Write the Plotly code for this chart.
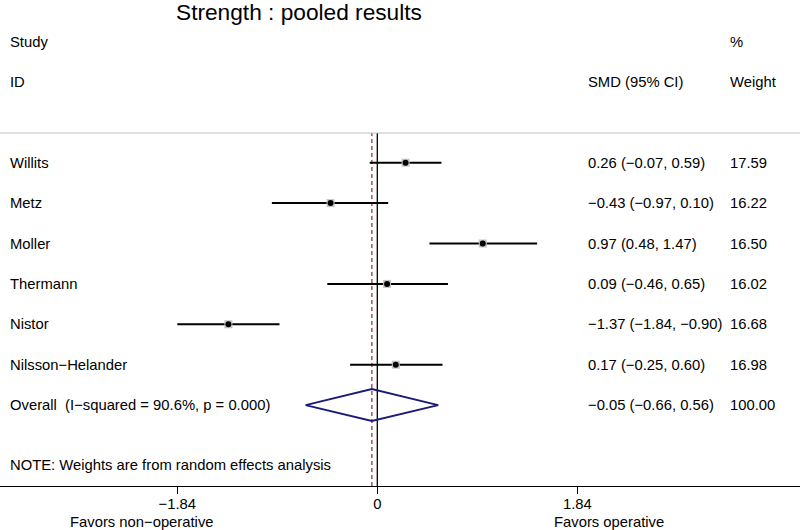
import plotly.graph_objects as go

# ---- data ----
studies = ["Willits", "Metz", "Moller", "Thermann", "Nistor", "Nilsson\u2212Helander"]
smd = [0.26, -0.43, 0.97, 0.09, -1.37, 0.17]
ci_lo = [-0.07, -0.97, 0.48, -0.46, -1.84, -0.25]
ci_hi = [0.59, 0.10, 1.47, 0.65, -0.90, 0.60]
weights = [17.59, 16.22, 16.50, 16.02, 16.68, 16.98]

overall_label = "Overall  (I\u2212squared = 90.6%, p = 0.000)"
overall_smd = -0.05
overall_lo = -0.66
overall_hi = 0.56
overall_weight = 100.00

tick_vals = [-1.84, 0, 1.84]
tick_text = ["\u22121.84", "0", "1.84"]

FONT = "Liberation Sans, Arial, Helvetica, sans-serif"
W, H = 800, 530
TOP, BOT = 133, 486

def fmt(v):
    return f"{v:.2f}".replace("-", "\u2212")

rows = list(range(1, len(studies) + 1))
overall_row = len(studies) + 1

fig = go.Figure()

# CI lines
for i, (s, lo, hi) in enumerate(zip(smd, ci_lo, ci_hi)):
    fig.add_trace(go.Scatter(x=[lo, hi], y=[rows[i], rows[i]], mode="lines",
                             line=dict(color="black", width=2), hoverinfo="skip",
                             showlegend=False))
# weight boxes (gray) and point estimates
fig.add_trace(go.Scatter(x=smd, y=rows, mode="markers",
                         marker=dict(symbol="square", size=8, color="#c4c4c4"),
                         hoverinfo="skip", showlegend=False))
fig.add_trace(go.Scatter(x=smd, y=rows, mode="markers",
                         marker=dict(symbol="circle", size=6, color="black"),
                         hoverinfo="skip", showlegend=False))

# overall diamond
hh = 0.395
fig.add_trace(go.Scatter(
    x=[overall_lo, overall_smd, overall_hi, overall_smd, overall_lo],
    y=[overall_row, overall_row - hh, overall_row, overall_row + hh, overall_row],
    mode="lines", line=dict(color="#1c1c78", width=2), hoverinfo="skip",
    showlegend=False))

# reference lines
fig.add_shape(type="line", xref="x", yref="y domain", x0=0, x1=0, y0=0, y1=1,
              line=dict(color="black", width=1.3), layer="below")
fig.add_shape(type="line", xref="x", yref="y domain", x0=overall_smd, x1=overall_smd,
              y0=0, y1=1, line=dict(color="#9a3a3a", width=1.3, dash="4px,3px"),
              layer="below")
fig.add_shape(type="line", xref="paper", yref="paper", x0=0, x1=1, y0=1, y1=1,
              line=dict(color="#c0c0c0", width=1))

def px_x(p):
    return p / W

def px_y(p):
    return (BOT - p) / (BOT - TOP)

ann = []
def txt(text, x, y, size=14.8, anchor="left", yref="paper", ydata=None):
    ann.append(dict(text=text, xref="paper", x=px_x(x), xanchor=anchor,
                    yref=yref, y=(ydata if ydata is not None else px_y(y)),
                    yanchor="middle", showarrow=False,
                    font=dict(family=FONT, size=size, color="black")))

# title and headers
txt("Strength : pooled results", 174, 12, size=22.7)
txt("Study", 8, 42)
txt("ID", 8, 82)
txt("%", 728, 42)
txt("SMD (95% CI)", 585.5, 82)
txt("Weight", 728, 82)

for i, name in enumerate(studies):
    txt(name, 8, 0, yref="y", ydata=rows[i])
    txt(f"{fmt(smd[i])} ({fmt(ci_lo[i])}, {fmt(ci_hi[i])})", 585.5, 0, yref="y", ydata=rows[i])
    txt(f"{weights[i]:.2f}", 728, 0, yref="y", ydata=rows[i])

txt(overall_label, 8, 0, yref="y", ydata=overall_row)
txt(f"{fmt(overall_smd)} ({fmt(overall_lo)}, {fmt(overall_hi)})", 585.5, 0, yref="y", ydata=overall_row)
txt(f"{overall_weight:.2f}", 728, 0, yref="y", ydata=overall_row)

txt("NOTE: Weights are from random effects analysis", 8, 465)
txt("Favors non\u2212operative", 141.5, 521.5, anchor="center")
txt("Favors operative", 608.5, 521.5, anchor="center")

# axis range: zero at px 377.3, 108.7 px per unit
x0_px, scale = 377.3, 108.7
xr = [(0 - x0_px) / scale, (W - x0_px) / scale]
row_px0, row_step = 162.7, 40.4
yr = [1 + (BOT - row_px0) / row_step, 1 + (TOP - row_px0) / row_step]

fig.update_layout(
    width=W, height=H,
    margin=dict(l=0, r=0, t=TOP, b=H - BOT),
    paper_bgcolor="white", plot_bgcolor="white",
    annotations=ann, showlegend=False,
    xaxis=dict(range=xr, tickvals=tick_vals, ticktext=tick_text,
               ticks="outside", ticklen=7, tickcolor="black", tickwidth=1,
               ticklabelstandoff=-3,
               showline=True, linecolor="black", linewidth=1.3,
               showgrid=False, zeroline=False,
               tickfont=dict(family=FONT, size=14.8, color="black")),
    yaxis=dict(range=yr, visible=False, showgrid=False, zeroline=False),
)

fig.write_html("out.html", config={"displayModeBar": False},
               post_script="document.body.style.margin='0';document.body.style.overflow='hidden';")
